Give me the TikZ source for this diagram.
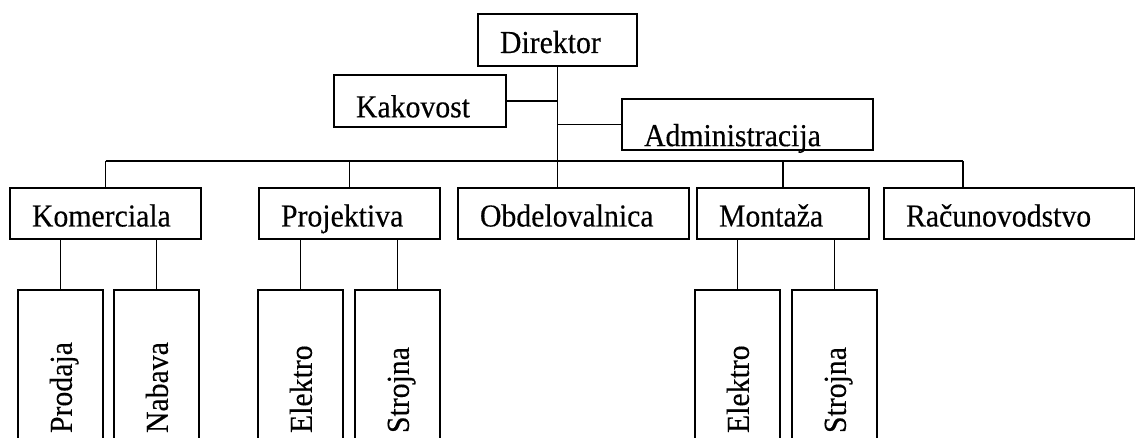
\documentclass[tikz,border=0pt]{standalone}
\usepackage{fontspec}
\setmainfont{Liberation Serif}[FakeStretch=0.93, FakeBold=0.3]
\tikzset{
	unit/.style={draw, line width=1.5pt, anchor=north west, align=left, inner xsep=16.5pt, inner ysep=0pt, minimum height=38.25pt, text height=19.5pt, text depth=0pt},
	subunit/.style={draw, line width=1.5pt, rotate=90, anchor=north east, align=left, inner xsep=16.5pt, inner ysep=0pt, text width=90.75pt, minimum height=63.75pt, text height=17pt, text depth=0pt}
}
\begin{document}
\begin{tikzpicture}[x=0.75pt, y=-0.75pt, line width=1.2pt, font=\fontsize{24pt}{28pt}\selectfont]
			\useasboundingbox (0,0) rectangle (1135,438);
			\clip (0,0) rectangle (1135,438);
			\node [unit, text width=86.25pt, minimum height=39pt] (dir) at (477,13) {Direktor};
			\node [unit, text width=96pt, minimum height=39pt] (kak) at (333,74) {\raisebox{-2.5pt}[\height][\depth]{Kakovost}};
			\node [unit, text width=155.25pt] (adm) at (621,98) {\raisebox{-6.5pt}[\height][\depth]{Administracija}};
			\node [unit, text width=110.25pt] (kom) at (9,187) {Komerciala};
			\node [unit, text width=102.75pt] (pro) at (258,187) {Projektiva};
			\node [unit, text width=140.25pt] (obd) at (457,187) {Obdelovalnica};
			\node [unit, text width=96pt] (mon) at (696,187) {Montaža};
			\node [unit, text width=155.25pt] (rac) at (883,187) {Računovodstvo};
			\node [subunit] (prod) at (17,289) {Prodaja};
			\node [subunit] (nab) at (113,289) {Nabava};
			\node [subunit] (ele) at (257,289) {Elektro};
			\node [subunit] (str) at (354,289) {Strojna};
			\node [subunit] (mele) at (694,289) {Elektro};
			\node [subunit] (mstr) at (791,289) {Strojna};
			\coordinate (bus) at (0,161);
			\coordinate (rdrop) at (963,161);
			\draw (dir.south) -- (dir.south |- obd.north);
			\draw (kak.east) -- (kak.east -| dir.south);
			\draw (adm.west) -- (adm.west -| dir.south);
			\draw (kom.north |- bus) -- (rdrop);
			\draw (kom.north) -- (kom.north |- bus);
			\draw (pro.north) -- (pro.north |- bus);
			\draw (mon.north) -- (mon.north |- bus);
			\draw (rdrop) -- (rdrop |- rac.north);
			\draw (kom.south -| prod.east) -- (prod.east);
			\draw (kom.south -| nab.east) -- (nab.east);
			\draw (pro.south -| ele.east) -- (ele.east);
			\draw (pro.south -| str.east) -- (str.east);
			\draw (mon.south -| mele.east) -- (mele.east);
			\draw (mon.south -| mstr.east) -- (mstr.east);
		\end{tikzpicture}
\end{document}
